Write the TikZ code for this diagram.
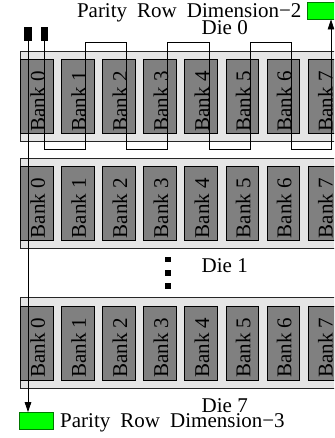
\documentclass[tikz,border=0pt]{standalone}
\usepackage{fontspec}
\setmainfont{Liberation Serif}
\usetikzlibrary{arrows.meta}
\definecolor{diefill}{RGB}{229,229,229}
\definecolor{bankfill}{RGB}{128,128,128}
\definecolor{parity}{RGB}{0,255,0}
\definecolor{parityedge}{RGB}{0,120,0}
\begin{document}
\begin{tikzpicture}[x=1pt,y=-1pt,
  die/.style={rectangle, draw=black!85, fill=diefill, line width=0.8pt, minimum width=330pt, minimum height=90.5pt, inner sep=0pt, anchor=north west},
  bank/.style={rectangle, draw=black, fill=bankfill, line width=0.8pt, minimum width=32.8pt, minimum height=74pt, inner sep=0pt, anchor=north west},
  banklabel/.style={rotate=90, anchor=base west, inner sep=0pt, font=\fontsize{21}{21}\selectfont},
  lbl/.style={inner sep=0pt, anchor=base west, font=\fontsize{21}{21}\selectfont},
  pbox/.style={rectangle, draw=parityedge, fill=parity, minimum width=33.6pt, minimum height=16.6pt, inner sep=0pt, line width=0.6pt},
  pin/.style={rectangle, fill=black, minimum width=7.3pt, minimum height=14pt, inner sep=0pt},
  vdot/.style={rectangle, fill=black, minimum width=5.7pt, minimum height=5.7pt, inner sep=0pt},
  wire/.style={line width=0.8pt, draw=black},
  arr/.style={wire, -{Triangle[length=10pt,width=6.5pt]}}
]
\useasboundingbox (0,0) rectangle (334,438);
\clip (0,0) rectangle (334,438);

% dies and banks
\foreach \d/\t in {0/51, 1/157.7, 7/297.3} {
  \node[die] (die\d) at (19.7,\t) {};
  \foreach \b in {0,...,7} {
    \node[bank] (d\d b\b) at ({20+41.1*\b},{\t+8.3}) {};
    \node[banklabel] (d\d l\b) at ({44.8+41.1*\b},{\t+80.6}) {Bank \b};
  }
}

% labels
\node[lbl] (die0lbl) at (201.5,35) {Die 0};
\node[lbl] (die1lbl) at (201.5,272.3) {Die 1};
\node[lbl] (die7lbl) at (201.5,412.3) {Die 7};

% vertical dots
\node[vdot] (dot1) at (167.8,259.5) {};
\node[vdot] (dot2) at (167.8,272.8) {};
\node[vdot] (dot3) at (167.8,286.2) {};

% parity boxes and texts
\node[pbox] (p2) at (324.5,10.85) {};
\node[pbox] (p3) at (36.5,420.8) {};
\node[lbl, anchor=base east] (t2) at (301.7,17.4) {Parity\hspace{0.48em}Row\hspace{0.48em}Dimension−2};
\node[lbl] (t3) at (60,427.3) {Parity\hspace{0.48em}Row\hspace{0.48em}Dimension−3};

% pins
\node[pin] (s1) at (28,33.7) {};
\node[pin] (s2) at (44.5,33.7) {};

% wires
\coordinate (c7) at (331,149);
\draw[arr] (s1.south) -- (s1.south |- p3.north);
\draw[arr] (s2.south) -- (44.5,149) -- (85.6,149) -- (85.6,42.7) -- (126.7,42.7)
  -- (126.7,149) -- (167.8,149) -- (167.8,42.7) -- (208.9,42.7) -- (208.9,149)
  -- (250,149) -- (250,42.7) -- (291.1,42.7) -- (291.1,149) -- (c7) -- (c7 |- p2.south);
\end{tikzpicture}
\end{document}
